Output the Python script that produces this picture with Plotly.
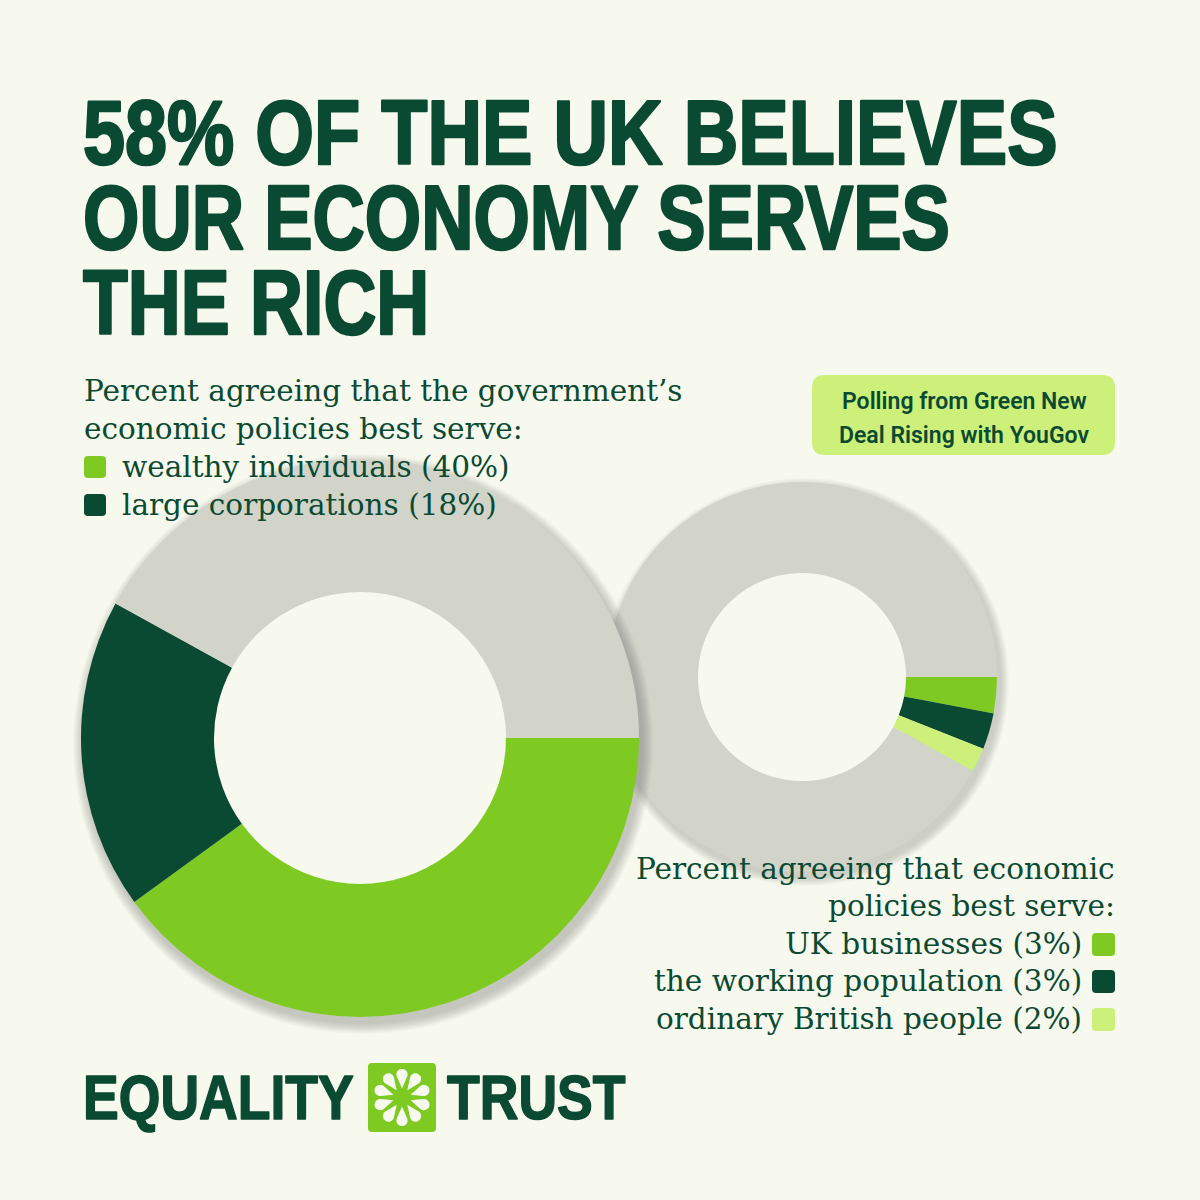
import json
import numpy as np
import plotly.graph_objects as go

# ---------------- data ----------------
main_labels = ["wealthy individuals", "large corporations", "other"]
main_values = [40, 18, 42]
minor_labels = ["UK businesses", "the working population", "ordinary British people", "other"]
minor_values = [3, 3, 2, 92]

title_lines = ["58% OF THE UK BELIEVES", "OUR ECONOMY SERVES", "THE RICH"]
left_header = ["Percent agreeing that the government\u2019s", "economic policies best serve:"]
left_items = ["wealthy individuals (40%)", "large corporations (18%)"]
right_header = ["Percent agreeing that economic", "policies best serve:"]
right_items = ["UK businesses (3%)", "the working population (3%)", "ordinary British people (2%)"]
badge_lines = ["Polling from Green New", "Deal Rising with YouGov"]

# ---------------- style ----------------
W = H = 1200
BG = "#F7F9EE"
DARK = "#0B4A32"
GREEN = "#7FCA22"
PALE = "#CCF07A"
GREY = "#D2D4CA"
main_colors = [GREEN, DARK, GREY]
minor_colors = [GREEN, DARK, PALE, GREY]

TITLE_FONT = "Liberation Sans, Arial, sans-serif"
SERIF = "DejaVu Serif, serif"
SANS = "Roboto, Inter, sans-serif"
SERIF_SIZE = 29.5
title_condense = [0.84, 0.805, 0.815]


def px(x):
    return x / W


def py(y):
    return 1 - y / H


def dom(cx, cy, r):
    return dict(x=[px(cx - r), px(cx + r)], y=[py(cy + r), py(cy - r)])


def rrect(x0, y0, x1, y1, r):
    return (f"M {px(x0 + r)},{py(y0)} L {px(x1 - r)},{py(y0)} "
            f"Q {px(x1)},{py(y0)} {px(x1)},{py(y0 + r)} L {px(x1)},{py(y1 - r)} "
            f"Q {px(x1)},{py(y1)} {px(x1 - r)},{py(y1)} L {px(x0 + r)},{py(y1)} "
            f"Q {px(x0)},{py(y1)} {px(x0)},{py(y1 - r)} L {px(x0)},{py(y0 + r)} "
            f"Q {px(x0)},{py(y0)} {px(x0 + r)},{py(y0)} Z")


fig = go.Figure()

# geometry (pixels)
BIG = dict(cx=360, cy=738, r=279, rin=146)
SMALL = dict(cx=802, cy=677, r=195, rin=104)


def add_shadow(g, dx, dy, spread, alpha):
    for s in range(1, spread + 1):
        R = g["r"] + s
        rin = g["rin"] + 7
        fig.add_trace(go.Pie(
            values=[1], labels=["shadow"], hole=rin / R, sort=False,
            marker=dict(colors=[f"rgba(60,60,55,{alpha})"], line=dict(width=0)),
            textinfo="none", hoverinfo="skip", showlegend=False,
            domain=dom(g["cx"] + dx, g["cy"] + dy, R)))


def add_donut(g, labels, values, colors):
    fig.add_trace(go.Pie(
        labels=labels, values=values, hole=g["rin"] / g["r"], sort=False,
        direction="clockwise", rotation=90,
        marker=dict(colors=colors, line=dict(width=0)),
        textinfo="none", hoverinfo="label+value", showlegend=False,
        domain=dom(g["cx"], g["cy"], g["r"])))


add_shadow(SMALL, 3, 5, 9, 0.028)
add_donut(SMALL, minor_labels, minor_values, minor_colors)
add_shadow(BIG, 3, 6, 11, 0.028)
add_donut(BIG, main_labels, main_values, main_colors)

shapes = []
annotations = []
condense = {}  # annotation index -> [horizontal scale, stroke width]

# title
for i, line in enumerate(title_lines):
    condense[len(annotations)] = [title_condense[i], 2.6]
    annotations.append(dict(
        x=px(81), y=py(133 + i * 85), xref="paper", yref="paper",
        xanchor="left", yanchor="middle", showarrow=False, text=line,
        font=dict(family=TITLE_FONT, size=90, color=DARK, weight="bold")))

# left legend
left_y = [391, 429, 467, 505]
for i, line in enumerate(left_header):
    annotations.append(dict(
        x=px(82), y=py(left_y[i]), xref="paper", yref="paper",
        xanchor="left", yanchor="middle", showarrow=False, text=line,
        font=dict(family=SERIF, size=SERIF_SIZE, color=DARK)))
for j, line in enumerate(left_items):
    yc = left_y[2 + j]
    annotations.append(dict(
        x=px(120), y=py(yc), xref="paper", yref="paper",
        xanchor="left", yanchor="middle", showarrow=False, text=line,
        font=dict(family=SERIF, size=SERIF_SIZE, color=DARK)))
    shapes.append(dict(type="path", xref="paper", yref="paper",
                       path=rrect(84, yc - 11, 106, yc + 11, 4),
                       fillcolor=main_colors[j], line=dict(width=0)))

# right legend
right_y = [869, 906, 944, 981, 1019]
for i, line in enumerate(right_header):
    annotations.append(dict(
        x=px(1117), y=py(right_y[i]), xref="paper", yref="paper",
        xanchor="right", yanchor="middle", showarrow=False, text=line,
        font=dict(family=SERIF, size=SERIF_SIZE, color=DARK)))
for j, line in enumerate(right_items):
    yc = right_y[2 + j]
    annotations.append(dict(
        x=px(1084), y=py(yc), xref="paper", yref="paper",
        xanchor="right", yanchor="middle", showarrow=False, text=line,
        font=dict(family=SERIF, size=SERIF_SIZE, color=DARK)))
    shapes.append(dict(type="path", xref="paper", yref="paper",
                       path=rrect(1092, yc - 11, 1115, yc + 12, 4),
                       fillcolor=minor_colors[j], line=dict(width=0)))

# badge
shapes.append(dict(type="path", xref="paper", yref="paper",
                   path=rrect(812, 375, 1115, 455, 13),
                   fillcolor=PALE, line=dict(width=0)))
for i, line in enumerate(badge_lines):
    annotations.append(dict(
        x=px(964), y=py(402 + i * 33), xref="paper", yref="paper",
        xanchor="center", yanchor="middle", showarrow=False, text=line,
        font=dict(family=SANS, size=23, color=DARK, weight=600)))

# logo
condense[len(annotations)] = [0.85, 1.6]
annotations.append(dict(
    x=px(81), y=py(1097), xref="paper", yref="paper",
    xanchor="left", yanchor="middle", showarrow=False, text="EQUALITY",
    font=dict(family=TITLE_FONT, size=63, color=DARK, weight="bold")))
condense[len(annotations)] = [0.85, 1.6]
annotations.append(dict(
    x=px(445), y=py(1097), xref="paper", yref="paper",
    xanchor="left", yanchor="middle", showarrow=False, text="TRUST",
    font=dict(family=TITLE_FONT, size=63, color=DARK, weight="bold")))
shapes.append(dict(type="path", xref="paper", yref="paper",
                   path=rrect(368, 1063, 436, 1132, 4),
                   fillcolor=GREEN, line=dict(width=0)))
icx, icy = 402, 1097.5
for k in range(10):
    a = np.deg2rad(90 + 36 * k)
    u = np.array([np.cos(a), -np.sin(a)])
    n = np.array([-u[1], u[0]])
    tip = np.array([icx, icy]) + 9 * u
    oc = np.array([icx, icy]) + 23 * u
    pts = [tip]
    for ph in np.linspace(-115, 115, 14):
        p = np.deg2rad(ph)
        pts.append(oc + 5.6 * (np.cos(p) * u + np.sin(p) * n))
    path = "M " + " L ".join(f"{px(p[0])},{py(p[1])}" for p in pts) + " Z"
    shapes.append(dict(type="path", xref="paper", yref="paper", path=path,
                       fillcolor=BG, line=dict(width=0)))

fig.update_layout(
    width=W, height=H,
    margin=dict(l=0, r=0, t=0, b=0),
    paper_bgcolor=BG, plot_bgcolor=BG,
    shapes=shapes, annotations=annotations,
    showlegend=False,
)

post_js = (
    "document.body.style.margin='0';"
    "var gd=document.getElementById('{plot_id}');"
    "var sx=" + json.dumps({str(k): v for k, v in condense.items()}) + ";"
    "function applyCondense(){"
    " gd.querySelectorAll('g.annotation').forEach(function(g){"
    "  var i=g.getAttribute('data-index');"
    "  if(sx[i]!==undefined){"
    "   var t=g.querySelector('text.annotation-text');"
    "   if(t){t.style.transformBox='fill-box';t.style.transformOrigin='0% 50%';"
    "   t.style.transform='scaleX('+sx[i][0]+')';"
    "   t.style.stroke='" + DARK + "';t.style.strokeWidth=sx[i][1]+'px';"
    "   t.style.strokeLinejoin='round';}"
    "  }"
    " });"
    "}"
    "applyCondense();"
    "if(gd.on){gd.on('plotly_afterplot',applyCondense);}"
    "setTimeout(applyCondense,50);setTimeout(applyCondense,300);"
)

fig.write_html("out.html", post_script=post_js,
               config={"displayModeBar": False, "staticPlot": False})
